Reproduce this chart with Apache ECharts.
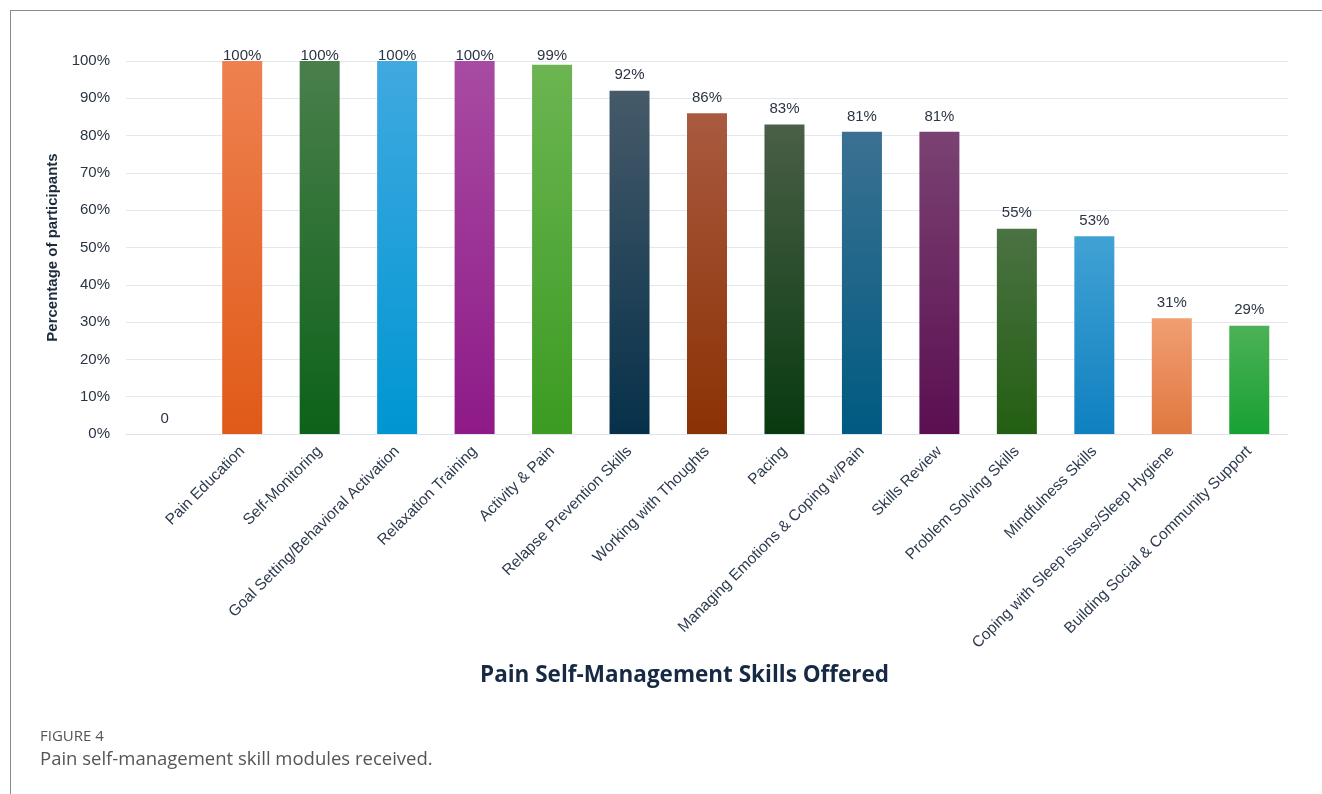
<!DOCTYPE html>
<html>
<head>
<meta charset="utf-8">
<script src="https://cdn.jsdelivr.net/npm/echarts@6/dist/echarts.min.js"></script>
<style>
html,body{margin:0;padding:0;background:#fff;}
#chart{width:1322px;height:794px;}
</style>
</head>
<body>
<div id="chart"></div>
<script>
const categories = ["", "Pain Education", "Self-Monitoring", "Goal Setting/Behavioral Activation", "Relaxation Training", "Activity & Pain", "Relapse Prevention Skills", "Working with Thoughts", "Pacing", "Managing Emotions & Coping w/Pain", "Skills Review", "Problem Solving Skills", "Mindfulness Skills", "Coping with Sleep issues/Sleep Hygiene", "Building Social & Community Support"];
const values = [0, 100, 100, 100, 100, 99, 92, 86, 83, 81, 81, 55, 53, 31, 29];
const topColors = ["#ffffff", "#ee8150", "#4a7f4c", "#40a9e0", "#a84ba2", "#6cb552", "#465a69", "#a95a40", "#4a5f47", "#3b7192", "#7a4272", "#4b7243", "#41a2d4", "#f19e72", "#4cb156"];
const bottomColors = ["#ffffff", "#e05a18", "#0d6219", "#0096d2", "#8e1a88", "#3b9b22", "#06304a", "#8b3104", "#083a0f", "#005a81", "#5b0f51", "#235f12", "#0f80c0", "#e07840", "#18a133"];
const yTicks = { min: 0, max: 100, interval: 10 };

const chart = echarts.init(document.getElementById('chart'));
const data = values.map((v, i) => ({
  value: v,
  itemStyle: {
    color: new echarts.graphic.LinearGradient(0, 0, 0, 1, [
      { offset: 0, color: topColors[i] },
      { offset: 1, color: bottomColors[i] }
    ])
  },
  label: { distance: v >= 99 ? (v === 100 ? -2 : 1) : 8 }
}));

chart.setOption({
  animation: false,
  backgroundColor: '#ffffff',
  grid: { left: 126, right: 34, top: 61, bottom: 360, containLabel: false },
  xAxis: {
    type: 'category',
    data: categories,
    axisLine: { show: true, lineStyle: { color: '#dde3ea', width: 1 } },
    axisTick: { show: false },
    axisLabel: {
      rotate: 45,
      interval: 0,
      margin: 15,
      fontFamily: 'Liberation Sans, Arial, sans-serif',
      fontSize: 15.5,
      color: '#2e3b4e'
    }
  },
  yAxis: {
    type: 'value',
    min: yTicks.min,
    max: yTicks.max,
    interval: yTicks.interval,
    name: 'Percentage of participants',
    nameLocation: 'middle',
    nameGap: 56,
    nameTextStyle: { fontFamily: 'Liberation Sans, Arial, sans-serif', fontSize: 15, fontWeight: 'bold', color: '#1d2b3d' },
    axisLine: { show: false },
    axisTick: { show: false },
    splitLine: { lineStyle: { color: '#e3e8ef', width: 1 } },
    axisLabel: {
      formatter: '{value}%',
      margin: 16,
      fontFamily: 'Liberation Sans, Arial, sans-serif',
      fontSize: 15,
      color: '#2b3444'
    }
  },
  series: [{
    type: 'bar',
    data: data,
    barWidth: 40,
    label: {
      show: true,
      position: 'top',
      fontFamily: 'Liberation Sans, Arial, sans-serif',
      fontSize: 15,
      color: '#2b3444',
      formatter: p => p.value === 0 ? '0' : p.value + '%'
    }
  }],
  graphic: [
    { type: 'line', shape: { x1: 10, y1: 10.5, x2: 1322, y2: 10.5 }, style: { stroke: '#8a8a8a', lineWidth: 1 } },
    { type: 'line', shape: { x1: 10.5, y1: 10, x2: 10.5, y2: 794 }, style: { stroke: '#8a8a8a', lineWidth: 1 } },
    { type: 'text', left: 480, top: 664, style: { text: 'Pain Self-Management Skills Offered', fontFamily: 'Open Sans, Noto Sans, sans-serif', fontSize: 22.5, fontWeight: 'bold', fill: '#172a45' } },
    { type: 'text', left: 40, top: 729, style: { text: 'FIGURE 4', fontFamily: 'Open Sans, Noto Sans, sans-serif', fontSize: 15, fill: '#555555' } },
    { type: 'text', left: 40, top: 750, style: { text: 'Pain self-management skill modules received.', fontFamily: 'Open Sans, Noto Sans, sans-serif', fontSize: 18.5, fill: '#555555' } }
  ]
});
</script>
</body>
</html>
